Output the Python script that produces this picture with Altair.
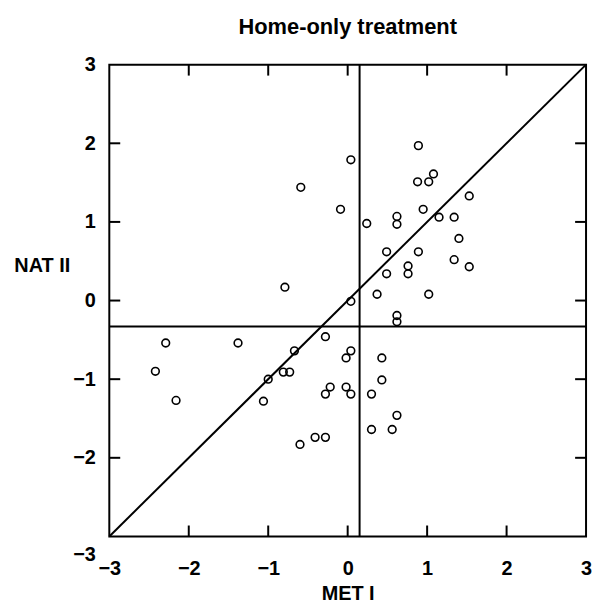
import altair as alt
import pandas as pd

# ---- data ----
met_i = [0.89, 0.04, -0.59, 1.08, 0.88, 1.02, 1.53, -0.09, 0.95, 0.24,
         0.62, 0.62, 1.15, 1.34, 1.40, 0.49, 0.89, 1.34, 0.76, 0.76,
         0.49, 1.53, -0.79, 0.37, 1.02, 0.04, 0.62, 0.62, -0.28, -2.29,
         -1.38, -0.67, 0.04, -0.02, 0.43, -2.42, -0.81, -0.73, -1.00, 0.43,
         -0.22, -0.02, -0.28, 0.04, 0.30, -2.16, -1.06, 0.62, 0.30, 0.56,
         -0.41, -0.28, -0.60]
nat_ii = [1.97, 1.79, 1.44, 1.61, 1.51, 1.51, 1.33, 1.16, 1.16, 0.98,
          1.07, 0.97, 1.06, 1.06, 0.79, 0.62, 0.62, 0.52, 0.44, 0.34,
          0.34, 0.43, 0.17, 0.08, 0.08, -0.01, -0.19, -0.27, -0.46, -0.54,
          -0.54, -0.64, -0.64, -0.73, -0.73, -0.90, -0.91, -0.91, -1.00, -1.01,
          -1.10, -1.10, -1.19, -1.19, -1.19, -1.27, -1.28, -1.46, -1.64, -1.64,
          -1.74, -1.74, -1.83]
axis_values = [-3, -2, -1, 0, 1, 2, 3]
inner_ticks = [-2, -1, 0, 1, 2]
cross_x = [0.15]
cross_y = [-0.33]
diag_vals = [-3, 3]

W, H = 480, 475
TICK = 11
FONT = "Liberation Sans"

xs = alt.Scale(domain=[-3, 3], nice=False, zero=False)
ys = alt.Scale(domain=[-3, 3], nice=False, zero=False)

pts = pd.DataFrame({"met": met_i, "nat": nat_ii})
diag = pd.DataFrame({"met": diag_vals, "nat": diag_vals})
vdf = pd.DataFrame({"met": cross_x})
hdf = pd.DataFrame({"nat": cross_y})
tdf = pd.DataFrame({"met": inner_ticks, "nat": inner_ticks})

x_axis = alt.Axis(values=axis_values, title="MET I", domain=False, ticks=False, grid=False,
                  labelFlush=False, labelPadding=22, titleY=58, titleBaseline="middle")
y_axis = alt.Axis(values=axis_values, title="NAT II", domain=False, ticks=False, grid=False,
                  labelFlush=False, labelPadding=14, titleAngle=0, titleX=-68, titleY=202,
                  titleAlign="center", titleBaseline="middle",
                  labelOffset={"condition": {"test": "datum.value == -3", "value": 18}, "value": 0})

X = alt.X("met:Q", scale=xs, axis=x_axis)
Y = alt.Y("nat:Q", scale=ys, axis=y_axis)

points = alt.Chart(pts).mark_point(shape="circle", filled=False, color="black",
                                   size=60, strokeWidth=1.6, opacity=1).encode(x=X, y=Y)

diag_line = alt.Chart(diag).mark_line(color="black", strokeWidth=2).encode(x=X, y=Y)

vrule = alt.Chart(vdf).mark_rule(color="black", strokeWidth=2).encode(x=X)
hrule = alt.Chart(hdf).mark_rule(color="black", strokeWidth=2).encode(y=Y)

tick_bottom = alt.Chart(tdf).mark_rule(color="black", strokeWidth=2).encode(
    x=X, y=alt.value(H), y2=alt.value(H - TICK))
tick_top = alt.Chart(tdf).mark_rule(color="black", strokeWidth=2).encode(
    x=X, y=alt.value(0), y2=alt.value(TICK))
tick_left = alt.Chart(tdf).mark_rule(color="black", strokeWidth=2).encode(
    y=Y, x=alt.value(0), x2=alt.value(TICK))
tick_right = alt.Chart(tdf).mark_rule(color="black", strokeWidth=2).encode(
    y=Y, x=alt.value(W), x2=alt.value(W - TICK))

chart = alt.layer(
    points, diag_line, vrule, hrule, tick_bottom, tick_top, tick_left, tick_right
).properties(
    width=W, height=H,
    title=alt.TitleParams("Home-only treatment", font=FONT, fontSize=22, fontWeight="bold",
                          color="black", anchor="middle", frame="group", offset=16),
    autosize=alt.AutoSizeParams(type="none"),
    padding={"left": 102, "top": 55, "right": 6, "bottom": 70},
).configure_view(
    stroke="black", strokeWidth=2
).configure_axis(
    labelFont=FONT, labelFontSize=20, labelFontWeight="bold", labelColor="black",
    titleFont=FONT, titleFontSize=20, titleFontWeight="bold", titleColor="black",
)

chart.save("out.html", embed_options={"renderer": "svg", "actions": False})
